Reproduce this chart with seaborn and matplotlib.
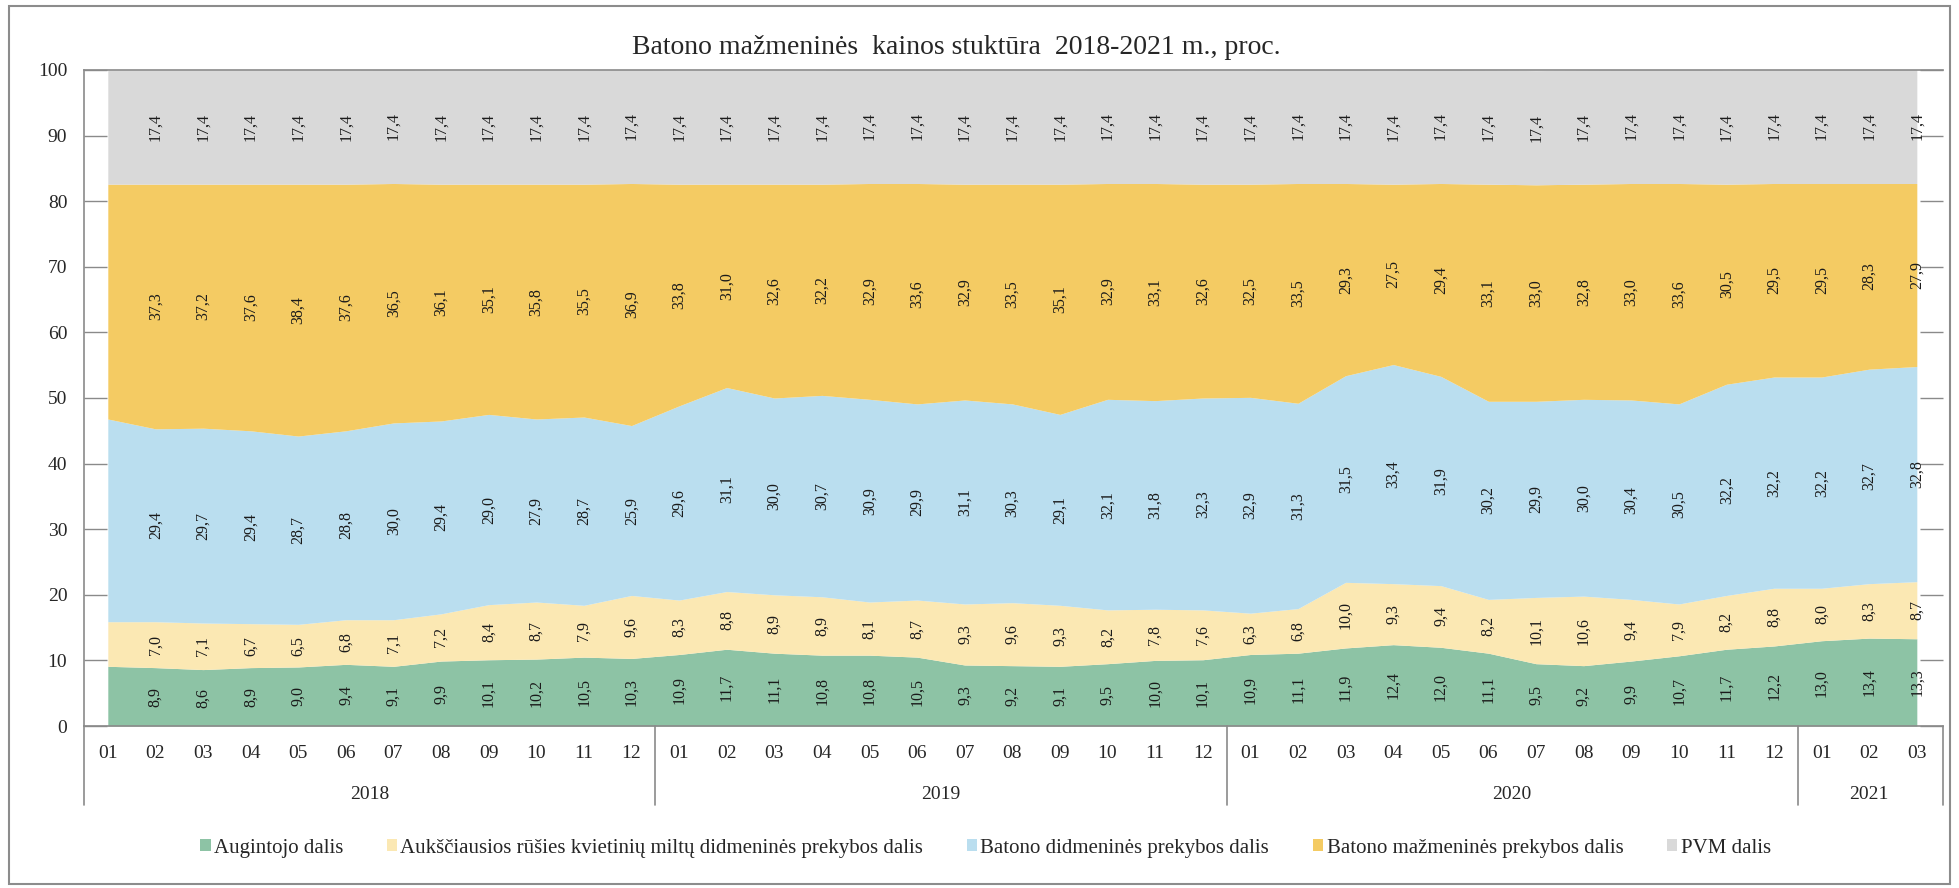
import pandas as pd
import matplotlib.pyplot as plt
import seaborn as sns
from matplotlib.patches import Patch, Rectangle
from matplotlib.transforms import blended_transform_factory

sns.set_theme(style='white')
plt.rcParams['font.family'] = ['Liberation Serif', 'DejaVu Serif']

# duomenys (2018-01 ... 2021-03)
menesiai = ['01', '02', '03', '04', '05', '06', '07', '08', '09', '10', '11', '12',
            '01', '02', '03', '04', '05', '06', '07', '08', '09', '10', '11', '12',
            '01', '02', '03', '04', '05', '06', '07', '08', '09', '10', '11', '12',
            '01', '02', '03']
metai = ['2018', '2019', '2020', '2021']
metu_ilgis = [12, 12, 12, 3]

augintojo = [9.1, 8.9, 8.6, 8.9, 9.0, 9.4, 9.1, 9.9, 10.1, 10.2, 10.5, 10.3,
             10.9, 11.7, 11.1, 10.8, 10.8, 10.5, 9.3, 9.2, 9.1, 9.5, 10.0, 10.1,
             10.9, 11.1, 11.9, 12.4, 12.0, 11.1, 9.5, 9.2, 9.9, 10.7, 11.7, 12.2,
             13.0, 13.4, 13.3]
miltai = [6.8, 7.0, 7.1, 6.7, 6.5, 6.8, 7.1, 7.2, 8.4, 8.7, 7.9, 9.6,
          8.3, 8.8, 8.9, 8.9, 8.1, 8.7, 9.3, 9.6, 9.3, 8.2, 7.8, 7.6,
          6.3, 6.8, 10.0, 9.3, 9.4, 8.2, 10.1, 10.6, 9.4, 7.9, 8.2, 8.8,
          8.0, 8.3, 8.7]
didmenine = [30.9, 29.4, 29.7, 29.4, 28.7, 28.8, 30.0, 29.4, 29.0, 27.9, 28.7, 25.9,
             29.6, 31.1, 30.0, 30.7, 30.9, 29.9, 31.1, 30.3, 29.1, 32.1, 31.8, 32.3,
             32.9, 31.3, 31.5, 33.4, 31.9, 30.2, 29.9, 30.0, 30.4, 30.5, 32.2, 32.2,
             32.2, 32.7, 32.8]
mazmenine = [35.8, 37.3, 37.2, 37.6, 38.4, 37.6, 36.5, 36.1, 35.1, 35.8, 35.5, 36.9,
             33.8, 31.0, 32.6, 32.2, 32.9, 33.6, 32.9, 33.5, 35.1, 32.9, 33.1, 32.6,
             32.5, 33.5, 29.3, 27.5, 29.4, 33.1, 33.0, 32.8, 33.0, 33.6, 30.5, 29.5,
             29.5, 28.3, 27.9]
pvm = [17.4, 17.4, 17.4, 17.4, 17.4, 17.4, 17.4, 17.4, 17.4, 17.4, 17.4, 17.4,
       17.4, 17.4, 17.4, 17.4, 17.4, 17.4, 17.4, 17.4, 17.4, 17.4, 17.4, 17.4,
       17.4, 17.4, 17.4, 17.4, 17.4, 17.4, 17.4, 17.4, 17.4, 17.4, 17.4, 17.4,
       17.4, 17.4, 17.4]

serijos = ['Augintojo dalis',
           'Aukščiausios rūšies kvietinių miltų didmeninės prekybos dalis',
           'Batono didmeninės prekybos dalis',
           'Batono mažmeninės prekybos dalis',
           'PVM dalis']
spalvos = ['#8dc3a5', '#fbe8b3', '#badeef', '#f4cb63', '#d9d9d9']

df = pd.DataFrame({serijos[0]: augintojo, serijos[1]: miltai, serijos[2]: didmenine,
                   serijos[3]: mazmenine, serijos[4]: pvm})
x = list(range(len(df)))

fig = plt.figure(figsize=(19.59, 8.88), dpi=100)
ax = fig.add_axes([84 / 1959, 1 - 726 / 888, (1943 - 84) / 1959, (726 - 70) / 888])

ax.stackplot(x, [df[c] for c in serijos], colors=spalvos, linewidth=0)

# reiksmiu etiketes (be pirmo menesio)
apacia = [0.0] * len(df)
for c in serijos:
    for i in range(1, len(df)):
        v = df[c][i]
        ax.text(i, apacia[i] + v / 2, f'{v:.1f}'.replace('.', ','), rotation=90,
                ha='center', va='center', fontsize=11.5, color='#1a1a1a')
    apacia = [a + b for a, b in zip(apacia, df[c])]

ax.set_xlim(-0.5, 38.55)
ax.set_ylim(0, 100)
ax.set_yticks(range(0, 101, 10))
ax.tick_params(axis='y', direction='in', length=16.5, width=1, color='#8a8a8a',
               labelsize=14, pad=12, right=True, left=True)
ax.set_xticks(x)
ax.set_xticklabels(menesiai, fontsize=14)
ax.tick_params(axis='x', length=0, pad=14)
for s in ['left', 'bottom', 'top']:
    ax.spines[s].set_color('#8a8a8a')
    ax.spines[s].set_linewidth(1.2)
ax.spines['right'].set_visible(False)

# metu grupes po asimi
tr = blended_transform_factory(ax.transData, ax.transAxes)
pradzia = 0
skirtukai = [-0.5]
for m, n in zip(metai, metu_ilgis):
    ax.text(pradzia + (n - 1) / 2, -0.105, m, transform=tr, ha='center', va='center', fontsize=14)
    pradzia += n
    skirtukai.append(pradzia - 0.5)
skirtukai[-1] = 38.55
for s in skirtukai:
    ax.plot([s, s], [0, -0.12], transform=tr, color='#8a8a8a', lw=1.2, clip_on=False)

fig.text(0.488, 1 - 47 / 888, 'Batono mažmeninės  kainos stuktūra  2018-2021 m., proc.',
         ha='center', va='center', fontsize=20)

rankenos = [Patch(facecolor=c, edgecolor='none') for c in spalvos]
fig.legend(rankenos, serijos, loc='center', bbox_to_anchor=(0.503, 1 - 848 / 888), ncol=5,
           frameon=False, fontsize=15, handlelength=0.5, handleheight=0.5,
           handletextpad=0.15, columnspacing=2.1)

fig.patches.append(Rectangle((9 / 1959, 4 / 888), 1941 / 1959, 878 / 888, transform=fig.transFigure,
                             fill=False, edgecolor='#8c8c8c', lw=1.5))

plt.savefig('out.png', dpi=100)
